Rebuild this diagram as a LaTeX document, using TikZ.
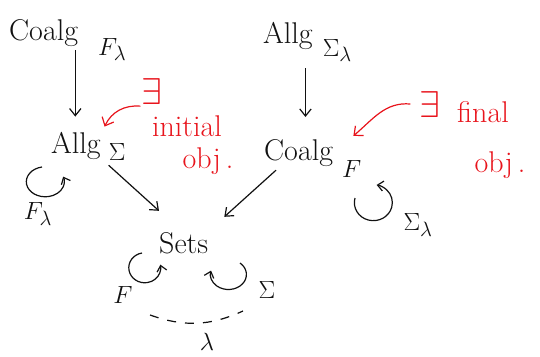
\documentclass[tikz,border=0pt]{standalone}
\usepackage{amsmath}
\usepackage{graphicx}
\usepackage{tikz}
\usetikzlibrary{arrows.meta,positioning,calc}
\definecolor{Ink}{HTML}{111111}
\definecolor{Pen}{HTML}{E8141C}
\newcommand{\lowsub}[3]{\hspace{#1}\raisebox{-#2}{\Huge$#3$}}

\begin{document}
\begin{tikzpicture}[x=1pt,y=-1pt,
  obj/.style={inner sep=1pt,font=\fontsize{30}{32}\selectfont,text=Ink,anchor=base west},
  note/.style={inner sep=1pt,font=\fontsize{30}{32}\selectfont,text=Pen},
  lbl/.style={inner sep=1pt,font=\Huge,text=Ink},
  arrow/.style={-{Straight Barb[length=2.5mm,width=4mm]},line width=1.2pt,draw=Ink},
  redarrow/.style={-{Straight Barb[length=2.5mm,width=4.5mm]},line width=1.2pt,draw=Pen},
  selfarrow/.style={-{Straight Barb[length=2mm,width=3.5mm]},line width=1.2pt,draw=Ink},
  dashline/.style={dash pattern=on 9pt off 9pt,line width=1.2pt,draw=Ink}
]
\useasboundingbox (0,0) rectangle (540,356);
% categories
\node[obj] (coalgFl) at (8,40) {Coalg\lowsub{20pt}{15pt}{F_\lambda}};
\node[obj] (algS) at (50,153) {Allg\lowsub{8pt}{7pt}{\Sigma}};
\node[obj] (algSl) at (262,43) {Allg\lowsub{10pt}{13pt}{\Sigma_\lambda}};
\node[obj] (coalgF) at (263,160) {Coalg\lowsub{9pt}{17pt}{F}};
\node[obj] (sets) at (158,253) {Sets};
\draw[arrow] ($(algS.north |- coalgFl.base)+(-13,10)$) -- ($(algS.north)+(-13,-14)$);
\draw[arrow] ($(algSl.base)+(-2,25)$) -- ($(algSl.base)+(-2,74)$);
\draw[arrow] ($(algS.south east)+(-18,4)$) -- ($(sets.north west)+(1,-20)$);
\draw[arrow] ($(coalgF.south west)+(13,-8)$) -- ($(sets.north east)+(15,-14)$);
% endofunctors
\coordinate (loopA) at (42,167);
\coordinate (loopB) at (355,198);
\coordinate (loopC) at (142,253);
\coordinate (loopD) at (240,263);
\draw[selfarrow] (loopA) arc[start angle=100,end angle=380,x radius=19pt,y radius=15pt];
\draw[selfarrow] (loopB) arc[start angle=165,end angle=440,x radius=19pt,y radius=18pt];
\draw[selfarrow] (loopC) arc[start angle=100,end angle=372,x radius=16pt,y radius=15pt];
\draw[selfarrow] (loopD) arc[start angle=50,end angle=-195,x radius=18pt,y radius=15pt];
\node[lbl] (fl) at (38,214) {$F_\lambda$};
\node[lbl] (sl) at (418,225) {$\Sigma_\lambda$};
\node[lbl] (f) at (123,295) {$F$};
\node[lbl] (s) at (267,290) {$\Sigma$};
\coordinate (dashL) at (150,315);
\coordinate (dashR) at (243,311);
\draw[dashline] (dashL) to[bend right=22] (dashR);
\node[lbl] (lam) at (207,342) {$\lambda$};
% initial / final
\node[note] (exA) at (152,92) {\scalebox{1.5}{$\exists$}};
\node[note] (initial) at (187,126) {initial};
\node[note] (objA) at (208,161) {obj\,.};
\node[note] (exB) at (430,105) {\scalebox{1.5}{$\exists$}};
\node[note] (final) at (483,112) {final};
\node[note] (objB) at (500,165) {obj\,.};
\draw[redarrow] (exA.south west) to[out=175,in=65] ($(algS.north east)+(-22,-4)$);
\draw[redarrow] ($(exB.west)+(-8,-1)$) to[out=175,in=40] ($(coalgF.north east)+(-9,-2)$);
\end{tikzpicture}
\end{document}
